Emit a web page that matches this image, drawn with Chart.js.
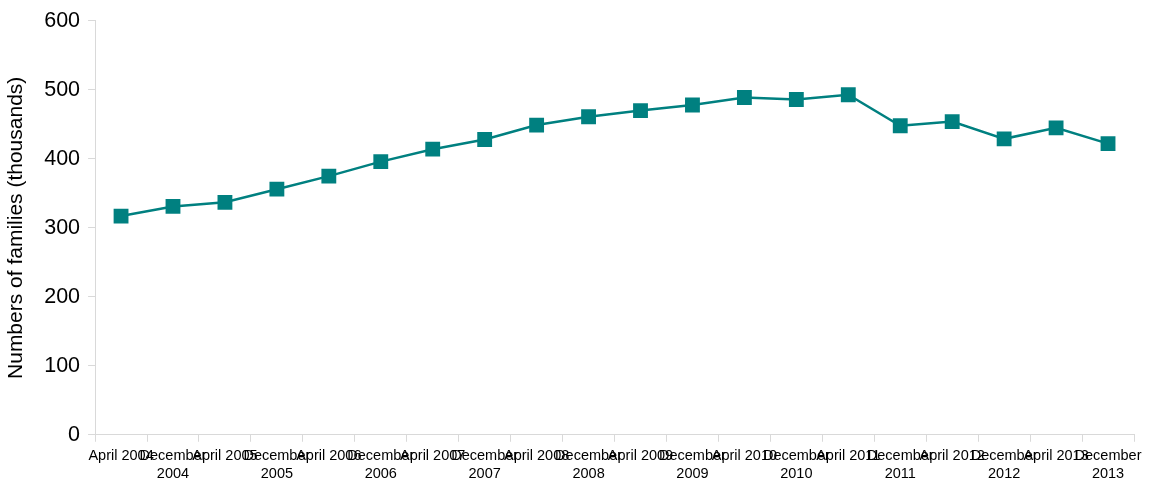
<!DOCTYPE html>
<html>
<head>
<meta charset="utf-8">
<script src="https://cdn.jsdelivr.net/npm/chart.js@4/dist/chart.umd.min.js"></script>
<style>
    html, body { margin: 0; padding: 0; background: #fff; }
    #wrap { width: 1150px; height: 488px; position: relative; }
</style>
</head>
<body>
<div id="wrap"><canvas id="chart"></canvas></div>
<script>
// Periodos (abril / diciembre de cada año)
const periods = [
    'April 2004', ['December', '2004'],
    'April 2005', ['December', '2005'],
    'April 2006', ['December', '2006'],
    'April 2007', ['December', '2007'],
    'April 2008', ['December', '2008'],
    'April 2009', ['December', '2009'],
    'April 2010', ['December', '2010'],
    'April 2011', ['December', '2011'],
    'April 2012', ['December', '2012'],
    'April 2013', ['December', '2013']
];

// Familias, miles
const families = [
    317, 331, 337, 356, 375, 396, 414, 428, 449, 461,
    470, 478, 489, 486, 493, 448, 454, 429, 445, 422
];

const yTicks = [0, 100, 200, 300, 400, 500, 600];

const teal = '#008080';
const axisGrey = '#d9d9d9';
const fontFamily = '"Liberation Sans", Arial, sans-serif';

new Chart(document.getElementById('chart'), {
    type: 'line',
    data: {
        labels: periods,
        datasets: [{
            data: families,
            borderColor: teal,
            backgroundColor: teal,
            borderWidth: 2.5,
            pointStyle: 'rect',
            pointRadius: 10.5,
            pointHoverRadius: 10.5,
            pointBorderWidth: 0,
            tension: 0,
            fill: false
        }]
    },
    options: {
        responsive: true,
        maintainAspectRatio: false,
        animation: false,
        layout: { padding: { top: 15, right: 16, left: 2, bottom: 0 } },
        plugins: {
            legend: { display: false },
            tooltip: { enabled: false }
        },
        scales: {
            x: {
                type: 'category',
                offset: true,
                grid: {
                    offset: true,
                    drawOnChartArea: false,
                    drawTicks: true,
                    tickLength: 7,
                    color: axisGrey
                },
                border: { color: axisGrey, width: 1 },
                ticks: {
                    autoSkip: false,
                    maxRotation: 0,
                    minRotation: 0,
                    color: '#000',
                    padding: 5,
                    font: { family: fontFamily, size: 14.5, lineHeight: 1.25 }
                }
            },
            y: {
                min: 0,
                max: 600,
                afterBuildTicks: axis => { axis.ticks = yTicks.map(v => ({ value: v })); },
                grid: {
                    drawOnChartArea: false,
                    drawTicks: true,
                    tickLength: 7,
                    color: axisGrey
                },
                border: { color: axisGrey, width: 1 },
                ticks: {
                    color: '#000',
                    padding: 8,
                    font: { family: fontFamily, size: 21.5 }
                },
                title: {
                    display: true,
                    text: 'Numbers of families (thousands)',
                    color: '#000',
                    padding: { top: 2, bottom: 7 },
                    font: { family: fontFamily, size: 21 }
                }
            }
        }
    }
});
</script>
</body>
</html>
